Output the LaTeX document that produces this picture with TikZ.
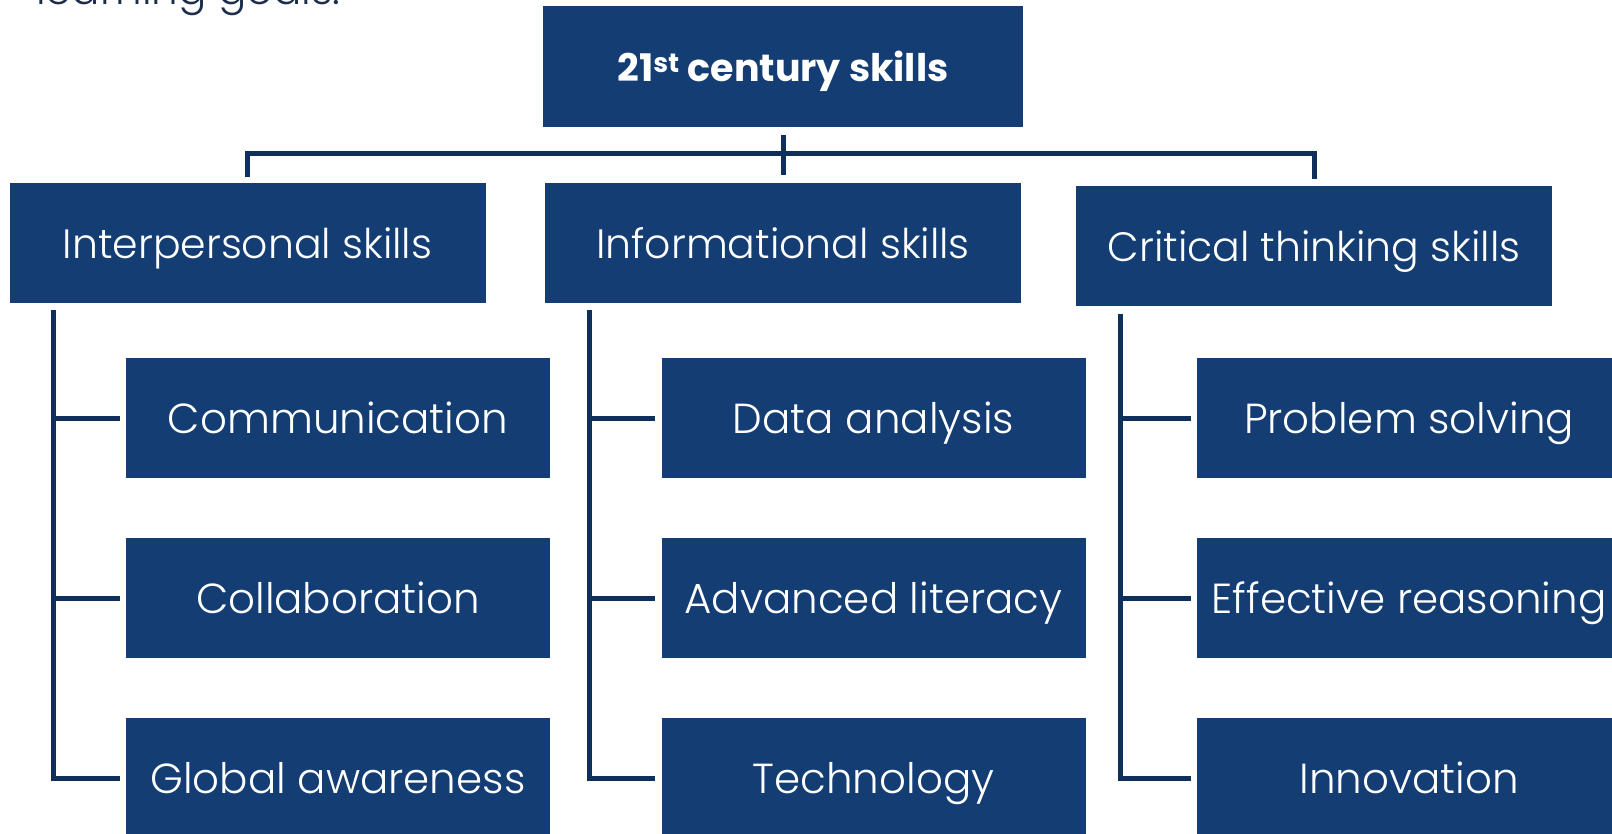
\documentclass[tikz,border=0pt]{standalone}
\usepackage{fontspec}
\setmainfont{Poppins}[UprightFont=* Light, BoldFont=* Bold]
\usepackage{tikz}
\usetikzlibrary{calc, positioning}

\definecolor{skillblue}{RGB}{19,61,115}
\definecolor{linkblue}{RGB}{16,48,92}
\definecolor{headgrey}{RGB}{28,45,75}

\begin{document}
\begin{tikzpicture}
                [x=1pt, y=-1pt,
                every node/.style={inner sep=0pt, text=white},
                skill/.style={fill=skillblue, minimum width=476pt, minimum height=120pt,
                    font=\fontsize{41}{48}\selectfont, text height=42pt, text depth=11pt},
                subskill/.style={fill=skillblue, minimum width=424pt, minimum height=120pt,
                    font=\fontsize{42}{48}\selectfont, text height=42pt, text depth=11pt},
                conn/.style={draw=linkblue, line width=5pt, line join=miter}]
                \useasboundingbox (0,0) rectangle (1612,834);
                \clip (0,0) rectangle (1612,834);
                \node[anchor=base west, text=headgrey, font=\fontsize{42}{48}\selectfont] (goal) at (36,5) {learning goals.};
                \node[fill=skillblue, minimum width=480pt, minimum height=121pt,
                    font=\fontsize{38}{44}\selectfont\bfseries, text height=40pt, text depth=10pt] (root) at (783,67) {21\textsuperscript{st} century skills};
                \node[skill] (inter) at (247.5,243) {Interpersonal skills};
                \node[skill] (info) at (783,243) {Informational skills};
                \node[skill] (crit) at (1314,246.5) {Critical thinking skills};
                \node[subskill] (comm) at (338,418) {Communication};
                \node[subskill] (collab) at (338,598) {Collaboration};
                \node[subskill] (global) at (338,778) {Global awareness};
                \node[subskill] (data) at (873.5,418) {Data analysis};
                \node[subskill] (litcy) at (873.5,598) {Advanced literacy};
                \node[subskill] (tech) at (873.5,778) {Technology};
                \node[subskill] (prob) at (1409,418) {Problem solving};
                \node[subskill] (reason) at (1409,598) {Effective reasoning};
                \node[subskill] (innov) at (1409,778) {Innovation};
                \coordinate (bar) at (783,154);
                \draw[conn] ([yshift=-7pt]root.south) -- ([yshift=8pt]info.north);
                \draw[conn] ([yshift=6pt]inter.north) |- (bar) -| ([yshift=7pt]crit.north);
                \foreach \parent/\first/\second/\third in
                    {inter/comm/collab/global, info/data/litcy/tech, crit/prob/reason/innov} {
                    \coordinate (spine) at ([xshift=44.5pt,yshift=-7pt]\parent.south west);
                    \draw[conn] (spine) |- ([xshift=-6pt]\third.west);
                    \draw[conn] (spine |- \first.west) -- ([xshift=-6pt]\first.west);
                    \draw[conn] (spine |- \second.west) -- ([xshift=-6pt]\second.west);
                }
            \end{tikzpicture}
\end{document}
